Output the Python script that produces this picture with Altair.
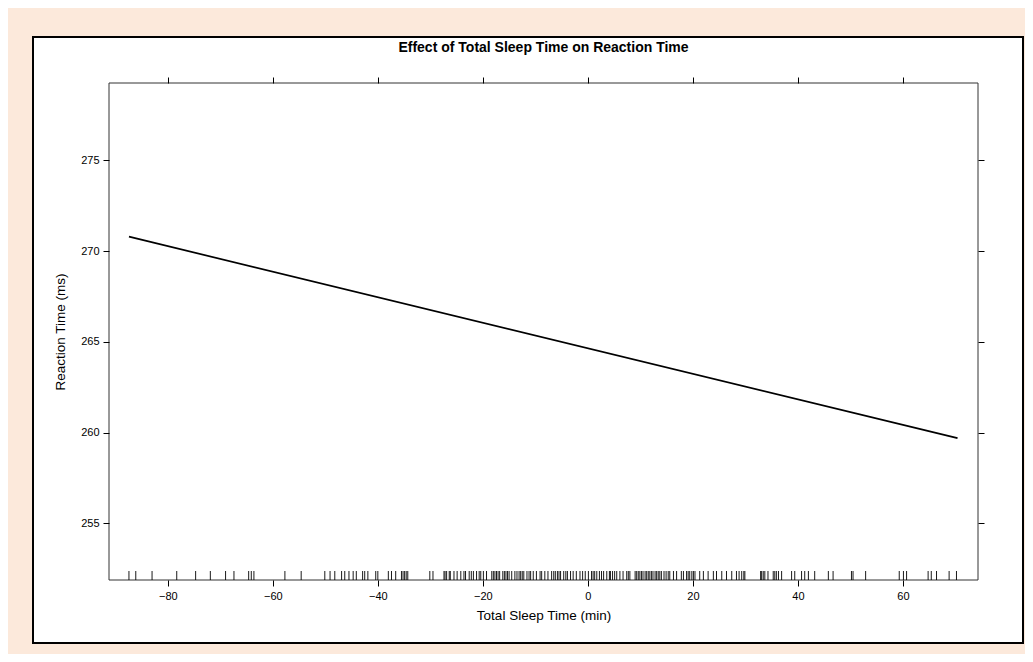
import altair as alt
import pandas as pd

# ---- data ----
line_x = [-87.4, 70.4]
line_y = [270.8, 259.7]

rug_x = [
    -87.4, -86.1, -83.0, -78.3, -74.7, -71.9, -69.0, -67.4, -64.6, -64.1, -63.6,
    -57.7, -54.6, -50.1, -49.1, -48.2, -46.9, -46.3, -45.5, -44.7, -44.1, -42.9,
    -42.5, -41.9, -40.4, -40.0, -38.0, -37.4, -36.6, -35.5, -35.2, -34.9, -34.6,
    -34.3, -30.1, -29.5, -27.4, -27.2, -26.9, -26.4, -26.2, -25.5, -24.9, -24.2,
    -23.6, -23.3, -22.6, -22.2, -21.8, -21.2, -20.7, -20.4, -19.9, -19.3, -18.3,
    -18.0, -17.7, -17.4, -17.1, -16.8, -16.2, -15.9, -15.6, -15.3, -15.0, -14.5,
    -13.9, -13.5, -13.1, -12.8, -12.5, -12.2, -11.6, -11.2, -10.9, -10.4, -9.8,
    -9.1, -8.8, -8.2, -7.6, -6.9, -6.5, -6.2, -5.8, -5.5, -5.2, -4.6, -4.2, -3.9,
    -3.3, -2.8, -2.2, -1.5, -1.0, -0.5, 0.1, 0.7, 1.0, 1.3, 1.7, 2.2, 2.6, 3.0,
    3.6, 4.1, 4.3, 4.7, 5.1, 5.5, 6.1, 6.7, 7.4, 7.7, 8.0, 9.0, 9.3, 9.6, 9.9,
    10.2, 10.5, 10.9, 11.2, 11.5, 11.8, 12.1, 12.4, 12.8, 13.1, 13.4, 13.7, 14.0,
    14.5, 14.9, 15.3, 15.6, 16.3, 16.9, 17.8, 18.2, 18.8, 19.1, 19.4, 19.8, 20.1,
    20.4, 21.3, 22.0, 22.9, 23.9, 24.5, 25.5, 26.4, 27.4, 28.3, 28.8, 29.3, 29.7,
    29.9, 32.9, 33.1, 33.4, 33.7, 34.3, 35.3, 35.6, 35.9, 36.3, 36.9, 38.8, 39.4,
    40.7, 41.3, 42.0, 43.2, 45.8, 46.7, 50.2, 50.5, 52.9, 59.3, 60.1, 60.7, 64.8,
    65.4, 66.4, 68.8, 70.2,
]

x_ticks = [-80, -60, -40, -20, 0, 20, 40, 60]
y_ticks = [255, 260, 265, 270, 275]
x_domain = [-91.2, 74.3]
y_domain = [251.88, 279.27]

title_text = "Effect of Total Sleep Time on Reaction Time"
x_title = "Total Sleep Time (min)"
y_title = "Reaction Time (ms)"

# ---- layout ----
W, H = 869, 497
PAD = {"left": 101, "top": 75, "right": 47, "bottom": 74}
FONT = "Liberation Sans"
PEACH = "#FCE9DB"

line_df = pd.DataFrame({"tst": line_x, "rt": line_y})
rug_df = pd.DataFrame({"tst": rug_x})
title_df = pd.DataFrame({"label": [title_text]})

xs = alt.Scale(domain=x_domain, nice=False, zero=False)
ys = alt.Scale(domain=y_domain, nice=False, zero=False)

common_axis = dict(
    domain=False, grid=False, tickColor="black", tickSize=6, tickWidth=1,
    labelFont=FONT, labelFontSize=11, labelColor="black",
    titleFont=FONT, titleFontSize=13.5, titleFontWeight="normal", titleColor="black",
    zindex=1,
)

# white panel with black border
frame = alt.Chart(pd.DataFrame({"a": [0]})).mark_rect(
    fill="white", stroke="black", strokeWidth=2
).encode(
    x=alt.value(-76), x2=alt.value(914), y=alt.value(-46), y2=alt.value(560)
)

# plot box
box = alt.Chart(pd.DataFrame({"a": [0]})).mark_rect(
    fill=None, stroke="#333333", strokeWidth=1
).encode(
    x=alt.value(0), x2=alt.value(W), y=alt.value(0), y2=alt.value(H)
)

title = alt.Chart(title_df).mark_text(
    font=FONT, fontSize=14, fontWeight="bold", color="black",
    align="center", baseline="middle"
).encode(
    text="label:N", x=alt.value(W / 2), y=alt.value(-35)
)

line = alt.Chart(line_df).mark_line(color="black", strokeWidth=1.7).encode(
    x=alt.X("tst:Q", scale=xs, axis=alt.Axis(
        orient="bottom", values=x_ticks, title=x_title, labelPadding=4,
        titlePadding=7, **common_axis)),
    y=alt.Y("rt:Q", scale=ys, axis=alt.Axis(
        orient="left", values=y_ticks, title=y_title, labelPadding=4,
        titlePadding=13, **common_axis)),
)

rug = alt.Chart(rug_df).mark_rule(color="black", strokeWidth=0.9).encode(
    x=alt.X("tst:Q", scale=xs, axis=alt.Axis(
        orient="top", values=x_ticks, labels=False, title=None, **common_axis)),
    y=alt.value(H - 9),
    y2=alt.value(H),
)

ghost = alt.Chart(line_df).mark_line(opacity=0).encode(
    x=alt.X("tst:Q", scale=xs, axis=None),
    y=alt.Y("rt:Q", scale=ys, axis=alt.Axis(
        orient="right", values=y_ticks, labels=False, title=None, **common_axis)),
)

chart = alt.layer(frame, box, title, line, rug, ghost).resolve_axis(
    x="independent", y="independent"
).properties(
    width=W, height=H,
    padding=PAD,
    autosize=alt.AutoSizeParams(type="none"),
).configure(background=PEACH).configure_view(stroke=None)

chart.save("out.html", embed_options={"renderer": "svg", "actions": False})
